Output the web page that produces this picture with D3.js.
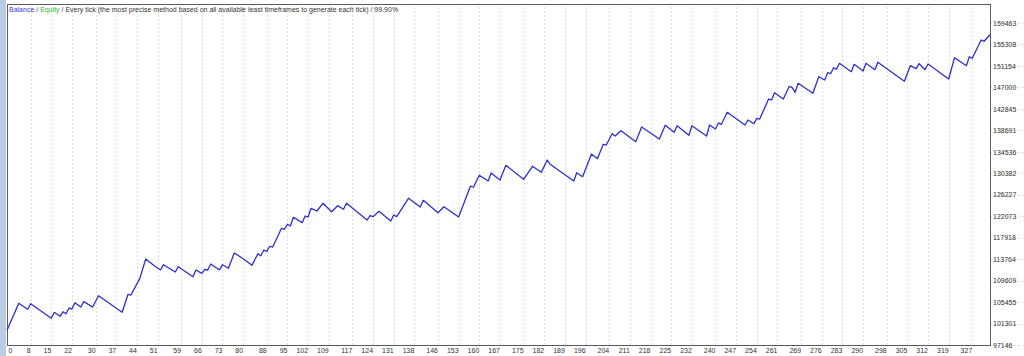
<!DOCTYPE html>
<html>
<head>
<meta charset="utf-8">
<script src="https://cdn.jsdelivr.net/npm/d3@7"></script>
<style>
  body { margin: 0; background: #fff; }
  svg { display: block; }
  .lbl text { font-family: "Liberation Sans", Arial, sans-serif; font-size: 7px; fill: #333; }
  .grid line { stroke: #dedede; stroke-dasharray: 2,2; shape-rendering: crispEdges; }
</style>
</head>
<body>
<svg id="chart" width="1024" height="356"></svg>
<script>
// balance curve, vertices of the line (trade number, balance)
var tradeNo = [0,2,4,7,8,15,16,18,19,20,21,22,23,25,26,29,31,39,41,42,45,47,50,52,53,57,58,63,64,66,67,68,69,72,73,75,77,80,83,85,86,87,88,89,90,93,94,95,96,97,100,101,102,103,105,107,110,112,
  114,115,122,123,124,126,130,131,132,136,140,141,146,148,153,157,158,160,163,164,167,169,175,178,181,183,184,192,193,195,198,200,202,203,205,206,208,213,215,221,223,
  226,227,231,232,237,238,240,241,242,244,250,251,253,254,255,258,259,260,263,265,266,267,268,273,275,277,278,279,280,281,282,286,287,290,291,294,295,304,306,308,309,311,312,319,321,325,326,327,330,331,333];
var balance = [100000,102620,105220,104060,105140,102310,103470,102700,103590,103200,104310,104110,105330,104500,105530,104500,106690,103470,106960,106820,110050,113790,112440,111660,112690,111270,112300,110360,111660,111020,111800,111660,112820,111660,112690,111990,114950,113850,112570,114820,114430,115530,115280,116250,116110,119730,119540,120510,120180,121860,120820,122110,121920,123600,123080,124570,122940,124110,
  123410,124570,121340,122170,121980,123020,121140,122310,121980,125540,123850,125150,122750,123910,121920,127920,127670,129990,128890,130430,129080,131920,129210,131730,130570,132950,132120,128890,130490,129720,134110,133200,135990,135850,138040,137590,138620,136490,139340,137010,139670,
  138310,139590,137730,139590,137590,139720,138950,140110,139860,142180,139720,140690,139970,141020,140880,144750,144560,145970,144750,147210,146940,146050,147790,145860,149070,148430,149840,149650,150810,150500,151660,150040,151470,150170,151660,150430,151860,148180,151200,150620,151590,150430,151530,148630,152750,151200,152940,152630,156170,155920,157200];

var xTicks = [0,8,15,22,30,37,44,51,59,66,73,80,88,95,102,109,117,124,131,138,146,153,160,167,175,182,189,196,204,211,218,225,232,240,247,254,261,269,276,283,290,298,305,312,319,327];
var yTicks = [97146,101301,105455,109609,113764,117918,122073,126227,130382,134536,138691,142845,147000,151154,155308,159463];

var headParts = [
  {t: 'Balance', c: '#3a3ad0'},
  {t: ' / ', c: '#333'},
  {t: 'Equity', c: '#2db82d'},
  {t: ' / Every tick (the most precise method based on all available least timeframes to generate each tick) / 99.90%', c: '#333'}
];

var svg = d3.select('#chart');
var pL = 7, pR = 990, pT = 4, pB = 345;

var x = d3.scaleLinear().domain([0, 333]).range([pL, pR]);
var y = d3.scaleLinear().domain([97146, 163140]).range([pB, pT]);

// window frame strip on the left
svg.append('rect')
  .attr('x', 0).attr('y', 0).attr('width', pL - 1).attr('height', 356)
  .attr('fill', '#b8cce4');

// grid
svg.append('g')
  .attr('class', 'grid')
  .attr('transform', 'translate(0,' + pB + ')')
  .call(d3.axisBottom(x).tickValues(xTicks).tickSize(-(pB - pT)).tickFormat(''))
  .call(function(g){ g.select('.domain').remove(); });

svg.append('g')
  .attr('class', 'grid')
  .attr('transform', 'translate(' + pR + ',0)')
  .call(d3.axisLeft(y).tickValues(yTicks).tickSize(-(pR - pL)).tickFormat(''))
  .call(function(g){ g.select('.domain').remove(); });

// frame
svg.append('rect')
  .attr('x', pL + 0.5).attr('y', pT + 0.5)
  .attr('width', pR - pL).attr('height', pB - pT)
  .attr('fill', 'none')
  .attr('stroke', '#5a5a5a')
  .attr('stroke-width', 1);

// y labels
var yAxis = svg.append('g')
  .attr('class', 'lbl')
  .attr('transform', 'translate(' + pR + ',0)')
  .call(d3.axisRight(y).tickValues(yTicks).tickSize(0).tickPadding(3).tickFormat(d3.format('d')));
yAxis.select('.domain').remove();

// x labels, right aligned to their grid line
var xAxis = svg.append('g')
  .attr('class', 'lbl')
  .attr('transform', 'translate(0,' + pB + ')')
  .call(d3.axisBottom(x).tickValues(xTicks).tickSize(0).tickPadding(3));
xAxis.select('.domain').remove();
xAxis.selectAll('text')
  .attr('text-anchor', function(d){ return d === 0 ? 'start' : 'end'; })
  .attr('dx', function(d){ return d === 0 ? 1 : -0.5; });

// balance line
var pts = tradeNo.map(function(d, i){ return [d, balance[i]]; });
svg.append('path')
  .datum(pts)
  .attr('d', d3.line()
    .x(function(d){ return x(d[0]); })
    .y(function(d){ return y(d[1]); }))
  .attr('fill', 'none')
  .attr('stroke', '#2e2ecc')
  .attr('stroke-width', 1.3)
  .attr('stroke-linejoin', 'round');

// header
var head = svg.append('text')
  .attr('x', pL + 2)
  .attr('y', 12)
  .style('font-family', '"Liberation Sans", Arial, sans-serif')
  .style('font-size', '7px');
head.selectAll('tspan')
  .data(headParts).enter()
  .append('tspan')
  .attr('fill', function(d){ return d.c; })
  .text(function(d){ return d.t; });
</script>
</body>
</html>
